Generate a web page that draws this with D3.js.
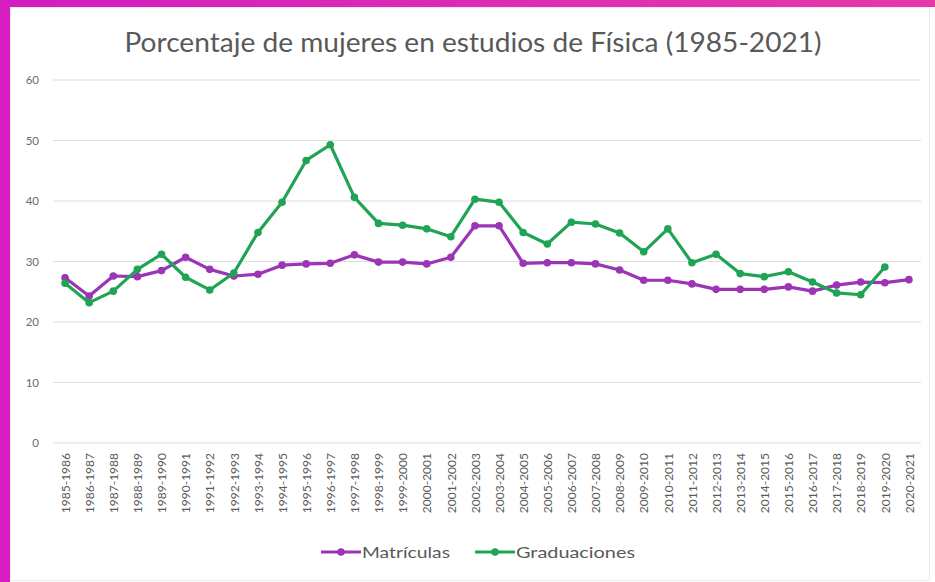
<!DOCTYPE html>
<html>
<head>
<meta charset="utf-8">
<script src="https://cdn.jsdelivr.net/npm/d3@7"></script>
<style>
	body { margin: 0; background: #fff; }
	svg text { font-family: Lato, "Open Sans", sans-serif; }
</style>
</head>
<body>
<div class="c-svg"></div>
<script>
//DATA
//-------------------------------------------------------------------------

const cursos = [
	"1985-1986","1986-1987","1987-1988","1988-1989","1989-1990","1990-1991",
	"1991-1992","1992-1993","1993-1994","1994-1995","1995-1996","1996-1997",
	"1997-1998","1998-1999","1999-2000","2000-2001","2001-2002","2002-2003",
	"2003-2004","2004-2005","2005-2006","2006-2007","2007-2008","2008-2009",
	"2009-2010","2010-2011","2011-2012","2012-2013","2013-2014","2014-2015",
	"2015-2016","2016-2017","2017-2018","2018-2019","2019-2020","2020-2021"
];

const matriculas = [
	27.3, 24.3, 27.6, 27.5, 28.5, 30.7, 28.7, 27.6, 27.9, 29.4, 29.6, 29.7,
	31.1, 29.9, 29.9, 29.6, 30.7, 35.9, 35.9, 29.7, 29.8, 29.8, 29.6, 28.6,
	26.9, 26.9, 26.3, 25.4, 25.4, 25.4, 25.8, 25.1, 26.1, 26.6, 26.5, 27.0
];

const graduaciones = [
	26.4, 23.2, 25.1, 28.7, 31.2, 27.4, 25.3, 28.1, 34.8, 39.8, 46.7, 49.3,
	40.6, 36.3, 36.0, 35.4, 34.1, 40.3, 39.8, 34.8, 32.9, 36.5, 36.2, 34.7,
	31.6, 35.4, 29.8, 31.2, 28.0, 27.5, 28.3, 26.6, 24.8, 24.5, 29.1
];

const yTicks = [0, 10, 20, 30, 40, 50, 60];

const series = [
	{ name: "Matrículas", values: matriculas, color: "#9b35b5" },
	{ name: "Graduaciones", values: graduaciones, color: "#1fa455" }
];


//INITIALISATION
//-------------------------------------------------------------------------

const opts = {
	width: 935,
	height: 582,
	margin: { top: 80, right: 14, bottom: 139, left: 53 }
};

const innerChart = {
	width: opts.width - opts.margin.left - opts.margin.right,
	height: opts.height - opts.margin.top - opts.margin.bottom
};

const svg = d3.select(".c-svg")
	.append("svg")
	.attr("width", opts.width)
	.attr("height", opts.height);

//magenta frame
const grad = svg.append("defs").append("linearGradient")
	.attr("id", "frame-grad")
	.attr("x1", "0%").attr("x2", "100%");
grad.append("stop").attr("offset", "0%").attr("stop-color", "#d41cc2");
grad.append("stop").attr("offset", "100%").attr("stop-color", "#e43aa8");

svg.append("rect")
	.attr("x", 0).attr("y", 0)
	.attr("width", opts.width).attr("height", 7)
	.attr("fill", "url(#frame-grad)");

svg.append("rect")
	.attr("x", 0).attr("y", 0)
	.attr("width", 10).attr("height", opts.height)
	.attr("fill", "#d61dc0");

//faint chart border
svg.append("rect")
	.attr("x", 10.5).attr("y", 7.5)
	.attr("width", 919).attr("height", 573)
	.attr("fill", "none")
	.attr("stroke", "#ececec");

//title
svg.append("text")
	.attr("x", 473)
	.attr("y", 52)
	.attr("text-anchor", "middle")
	.attr("fill", "#595959")
	.attr("font-size", 26)
	.attr("textLength", 697)
	.attr("lengthAdjust", "spacingAndGlyphs")
	.text("Porcentaje de mujeres en estudios de Física (1985-2021)");

const g = svg.append("g")
	.attr("transform", `translate(${opts.margin.left} ${opts.margin.top})`);


//SCALES & AXES
//-------------------------------------------------------------------------

const x = d3.scalePoint()
	.domain(cursos)
	.range([0, innerChart.width])
	.padding(0.5);

const y = d3.scaleLinear()
	.domain([0, 60])
	.range([innerChart.height, 0]);

//grid
g.append("g")
	.selectAll("line")
	.data(yTicks)
	.join("line")
	.attr("x1", 0)
	.attr("x2", innerChart.width)
	.attr("y1", (d)=> y(d))
	.attr("y2", (d)=> y(d))
	.attr("stroke", "#dedede")
	.attr("stroke-width", 1.2);

const yAxis = d3.axisLeft(y)
	.tickValues(yTicks)
	.tickSize(0)
	.tickPadding(14);

g.append("g")
	.attr("class", "axis y_axis")
	.call(yAxis)
	.call((a)=> a.select(".domain").remove())
	.selectAll("text")
	.attr("fill", "#6b6b6b")
	.attr("font-size", 11.5);

const xAxis = d3.axisBottom(x).tickSize(0);

g.append("g")
	.attr("class", "axis x_axis")
	.attr("transform", `translate(0 ${innerChart.height})`)
	.call(xAxis)
	.call((a)=> a.select(".domain").remove())
	.selectAll("text")
	.attr("transform", "rotate(-90)")
	.attr("text-anchor", "end")
	.attr("x", -10)
	.attr("y", 0)
	.attr("dy", "0.35em")
	.attr("fill", "#5a5a5a")
	.attr("font-size", 12);


//LINES
//-------------------------------------------------------------------------

const line = d3.line()
	.x((d, i)=> x(cursos[i]))
	.y((d)=> y(d));

series.forEach((s)=>{
	g.append("path")
		.datum(s.values)
		.attr("fill", "none")
		.attr("stroke", s.color)
		.attr("stroke-width", 3.2)
		.attr("stroke-linejoin", "round")
		.attr("d", line);

	g.append("g")
		.selectAll("circle")
		.data(s.values)
		.join("circle")
		.attr("cx", (d, i)=> x(cursos[i]))
		.attr("cy", (d)=> y(d))
		.attr("r", 3.8)
		.attr("fill", s.color);
});


//LEGEND
//-------------------------------------------------------------------------

//widths of legend labels as seen in the reference
const legendWidths = [88, 119];

const legend = svg.append("g")
	.attr("transform", "translate(321 552)");

let offset = 0;
series.forEach((s, i)=>{
	const item = legend.append("g")
		.attr("transform", `translate(${offset} 0)`);
	item.append("line")
		.attr("x1", 0).attr("x2", 40)
		.attr("stroke", s.color)
		.attr("stroke-width", 3.2);
	item.append("circle")
		.attr("cx", 20).attr("r", 3.8)
		.attr("fill", s.color);
	item.append("text")
		.attr("x", 41)
		.attr("dy", "0.35em")
		.attr("fill", "#595959")
		.attr("font-size", 16)
		.attr("textLength", legendWidths[i])
		.attr("lengthAdjust", "spacingAndGlyphs")
		.text(s.name);
	offset += 41 + legendWidths[i] + 25;
});
</script>
</body>
</html>
